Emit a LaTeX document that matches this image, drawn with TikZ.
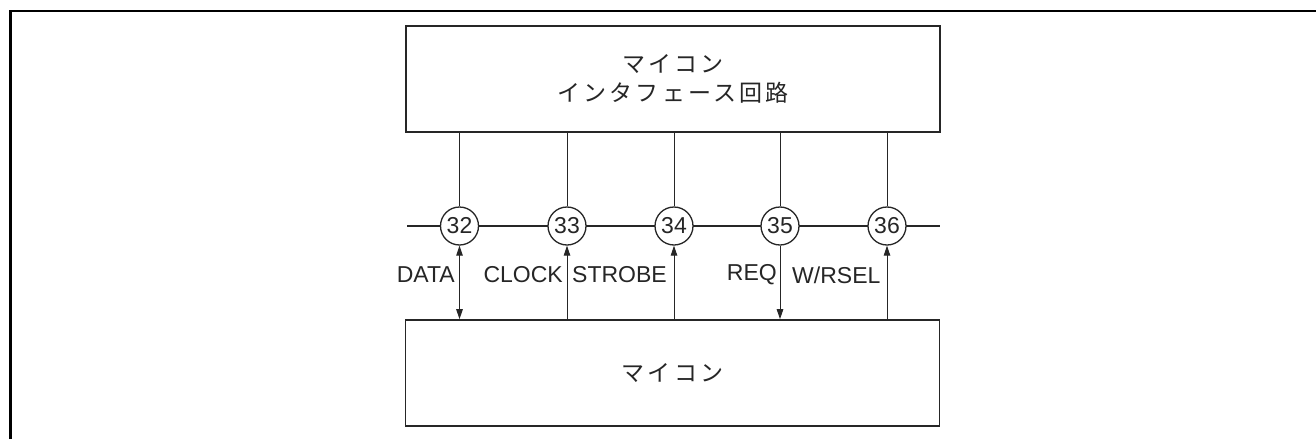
\documentclass[tikz,border=0pt]{standalone}
\usepackage{fontspec}
\setmainfont{Liberation Sans}
\newfontfamily\jpfont[LetterSpace=14]{Noto Sans CJK JP}
\usetikzlibrary{arrows.meta}
\definecolor{ink}{HTML}{262626}
\tikzset{
  blockbox/.style={draw=ink, line width=1.6pt, fill=white, minimum width=534pt, minimum height=106pt, inner sep=0pt, align=center, text=ink, font=\jpfont\fontsize{23}{29}\selectfont},
  pincirc/.style={circle, draw=ink, line width=1.3pt, fill=white, minimum size=38pt, inner sep=0pt, text=ink, font=\fontsize{23}{26}\selectfont},
  sigline/.style={draw=ink, line width=1pt},
  tipped/.style={sigline, -{Triangle[length=10pt,width=6.5pt]}},
  bothtipped/.style={sigline, {Triangle[length=10pt,width=6.5pt]}-{Triangle[length=10pt,width=6.5pt]}},
  lbl/.style={inner sep=0pt, text=ink, font=\fontsize{23}{26}\selectfont},
  bus/.style={draw=ink, line width=2.2pt},
}
\begin{document}
\begin{tikzpicture}[x=1pt,y=-1pt]
\useasboundingbox (0,0) rectangle (1316,439);
\fill[white] (0,0) rectangle (1316,439);
\draw[black, line width=2.5pt] (10.5,439) -- (10.5,11) -- (1316,11);

\node[blockbox] (top) at (673,79) {マイコン\\インタフェース回路};
\node[blockbox] (bot) at (672.5,373) {マイコン};

\coordinate (busL) at (407,226);
\coordinate (busR) at (940,226);
\draw[bus] (busL) -- (busR);

\node[pincirc] (c32) at (459.5,226) {32};
\node[pincirc] (c33) at (567,226) {33};
\node[pincirc] (c34) at (674,226) {34};
\node[pincirc] (c35) at (780,226) {35};
\node[pincirc] (c36) at (887,226) {36};

\foreach \c in {c32,c33,c34,c35,c36}{
  \draw[sigline] (top.south -| \c) -- (\c.north);
}

\draw[bothtipped] (c32.south) -- (c32 |- bot.north);
\draw[tipped] (c33 |- bot.north) -- (c33.south);
\draw[tipped] (c34 |- bot.north) -- (c34.south);
\draw[tipped] (c35.south) -- (c35 |- bot.north);
\draw[tipped] (c36 |- bot.north) -- (c36.south);

\node[lbl, anchor=east] (lData) at (455,275) {DATA};
\node[lbl, anchor=east] (lClock) at (563,275) {CLOCK};
\node[lbl, anchor=west] (lStrobe) at (572,275) {STROBE};
\node[lbl, anchor=east] (lReq) at (777,275) {REQ};
\node[lbl, anchor=west] (lWr) at (792,275) {W/RSEL};
\end{tikzpicture}
\end{document}
